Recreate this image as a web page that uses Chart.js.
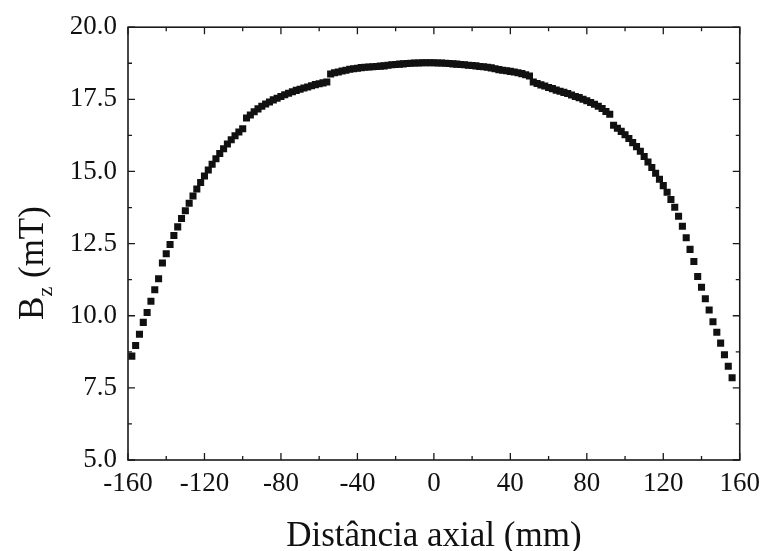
<!DOCTYPE html>
<html lang="pt">
<head>
  <meta charset="UTF-8">
  <title>Bz vs distância axial</title>
  <script src="https://cdn.jsdelivr.net/npm/chart.js"></script>
  <style>
    html, body { margin: 0; padding: 0; background: #fff; }
    canvas { display: block; }
  </style>
</head>
<body>
  <canvas id="chart" width="768" height="551"></canvas>

  <script>
    // axial position (mm)
    const distancia = [
      -158, -156, -154, -152, -150, -148, -146, -144, -142, -140,
      -138, -136, -134, -132, -130, -128, -126, -124, -122, -120,
      -118, -116, -114, -112, -110, -108, -106, -104, -102, -100,
      -98, -96, -94, -92, -90, -88, -86, -84, -82, -80,
      -78, -76, -74, -72, -70, -68, -66, -64, -62, -60,
      -58, -56, -54, -52, -50, -48, -46, -44, -42, -40,
      -38, -36, -34, -32, -30, -28, -26, -24, -22, -20,
      -18, -16, -14, -12, -10, -8, -6, -4, -2, 0,
      2, 4, 6, 8, 10, 12, 14, 16, 18, 20,
      22, 24, 26, 28, 30, 32, 34, 36, 38, 40,
      42, 44, 46, 48, 50, 52, 54, 56, 58, 60,
      62, 64, 66, 68, 70, 72, 74, 76, 78, 80,
      82, 84, 86, 88, 90, 92, 94, 96, 98, 100,
      102, 104, 106, 108, 110, 112, 114, 116, 118, 120,
      122, 124, 126, 128, 130, 132, 134, 136, 138, 140,
      142, 144, 146, 148, 150, 152, 154, 156
    ];

    // Bz (mT)
    const bz = [
      8.60, 8.97, 9.36, 9.77, 10.11, 10.50, 10.90, 11.28, 11.83, 12.15,
      12.47, 12.78, 13.08, 13.37, 13.64, 13.90, 14.15, 14.39, 14.62, 14.84,
      15.05, 15.25, 15.44, 15.62, 15.79, 15.95, 16.10, 16.24, 16.37, 16.48,
      16.85, 16.96, 17.07, 17.17, 17.26, 17.34, 17.41, 17.48, 17.54, 17.60,
      17.66, 17.71, 17.76, 17.81, 17.85, 17.89, 17.93, 17.97, 18.01, 18.04,
      18.07, 18.10, 18.38, 18.42, 18.45, 18.48, 18.51, 18.54, 18.56, 18.58,
      18.60, 18.61, 18.62, 18.63, 18.64, 18.65, 18.66, 18.68, 18.70, 18.71,
      18.72, 18.73, 18.74, 18.75, 18.76, 18.76, 18.77, 18.77, 18.77, 18.77,
      18.76, 18.76, 18.75, 18.74, 18.73, 18.72, 18.71, 18.70, 18.68, 18.67,
      18.66, 18.64, 18.63, 18.61, 18.59, 18.56, 18.53, 18.51, 18.49, 18.47,
      18.45, 18.42, 18.39, 18.35, 18.31, 18.10, 18.05, 18.00, 17.96, 17.91,
      17.87, 17.82, 17.78, 17.74, 17.70, 17.65, 17.60, 17.56, 17.50, 17.45,
      17.39, 17.33, 17.26, 17.18, 17.08, 16.98, 16.60, 16.50, 16.39, 16.27,
      16.14, 16.00, 15.86, 15.70, 15.52, 15.33, 15.14, 14.94, 14.73, 14.51,
      14.28, 14.03, 13.76, 13.45, 13.10, 12.70, 12.30, 11.88, 11.36, 10.99,
      10.59, 10.20, 9.79, 9.43, 9.05, 8.65, 8.25, 7.85
    ];

    const xTitle = 'Distância axial (mm)';
    const serif = '"Liberation Serif", "DejaVu Serif", serif';

    // frame with inward major/minor ticks on all sides + both axis titles
    const frameTicks = {
      id: 'frameTicks',
      afterDraw(chart) {
        const { ctx, chartArea: a, scales: { x, y } } = chart;
        ctx.save();
        ctx.strokeStyle = '#1a1a1a';
        ctx.lineWidth = 1.6;
        ctx.strokeRect(a.left, a.top, a.right - a.left, a.bottom - a.top);

        ctx.lineWidth = 1.3;
        ctx.beginPath();
        x.ticks.forEach((t, i) => {
          const px = x.getPixelForValue(t.value);
          ctx.moveTo(px, a.bottom); ctx.lineTo(px, a.bottom - 7);
          ctx.moveTo(px, a.top); ctx.lineTo(px, a.top + 7);
          const next = x.ticks[i + 1];
          if (next) {
            const mx = x.getPixelForValue((t.value + next.value) / 2);
            ctx.moveTo(mx, a.bottom); ctx.lineTo(mx, a.bottom - 4);
            ctx.moveTo(mx, a.top); ctx.lineTo(mx, a.top + 4);
          }
        });
        y.ticks.forEach((t, i) => {
          const py = y.getPixelForValue(t.value);
          ctx.moveTo(a.left, py); ctx.lineTo(a.left + 7, py);
          ctx.moveTo(a.right, py); ctx.lineTo(a.right - 7, py);
          const next = y.ticks[i + 1];
          if (next) {
            const my = y.getPixelForValue((t.value + next.value) / 2);
            ctx.moveTo(a.left, my); ctx.lineTo(a.left + 4, my);
            ctx.moveTo(a.right, my); ctx.lineTo(a.right - 4, my);
          }
        });
        ctx.stroke();

        const big = '35px ' + serif, small = '22px ' + serif;
        ctx.fillStyle = '#111';
        ctx.textBaseline = 'alphabetic';

        // x title
        ctx.font = big;
        ctx.textAlign = 'center';
        ctx.fillText(xTitle, (a.left + a.right) / 2, 546);

        // y title: B with subscript z, rotated
        ctx.textAlign = 'left';
        ctx.translate(43, 263);
        ctx.rotate(-Math.PI / 2);
        ctx.font = big;
        const wB = ctx.measureText('B').width;
        const wRest = ctx.measureText(' (mT)').width;
        ctx.font = small;
        const wz = ctx.measureText('z').width;
        const sx = -(wB + wz + wRest) / 2;
        ctx.font = big;
        ctx.fillText('B', sx, 0);
        ctx.font = small;
        ctx.fillText('z', sx + wB, 9);
        ctx.font = big;
        ctx.fillText(' (mT)', sx + wB + wz, 0);
        ctx.restore();
      }
    };

    new Chart(document.getElementById('chart'), {
      type: 'scatter',
      data: {
        datasets: [{
          data: distancia.map((d, i) => ({ x: d, y: bz[i] })),
          pointStyle: 'rect',
          pointRadius: 5,
          pointBorderWidth: 0,
          backgroundColor: '#111',
          borderColor: '#111'
        }]
      },
      options: {
        responsive: false,
        animation: false,
        events: [],
        layout: { padding: { top: 22, right: 25, left: 0, bottom: 0 } },
        plugins: { legend: { display: false }, tooltip: { enabled: false } },
        scales: {
          x: {
            type: 'linear',
            min: -160,
            max: 160,
            afterFit(scale) { scale.height = 91; },
            grid: { display: false, drawTicks: false },
            border: { display: false },
            ticks: {
              stepSize: 40,
              padding: 8,
              color: '#111',
              font: { family: serif, size: 27 }
            }
          },
          y: {
            min: 5,
            max: 20,
            afterFit(scale) { scale.width = 128; },
            grid: { display: false, drawTicks: false },
            border: { display: false },
            ticks: {
              stepSize: 2.5,
              padding: 11,
              color: '#111',
              font: { family: serif, size: 27 },
              callback: v => v.toFixed(1)
            }
          }
        }
      },
      plugins: [frameTicks]
    });
  </script>
</body>
</html>
